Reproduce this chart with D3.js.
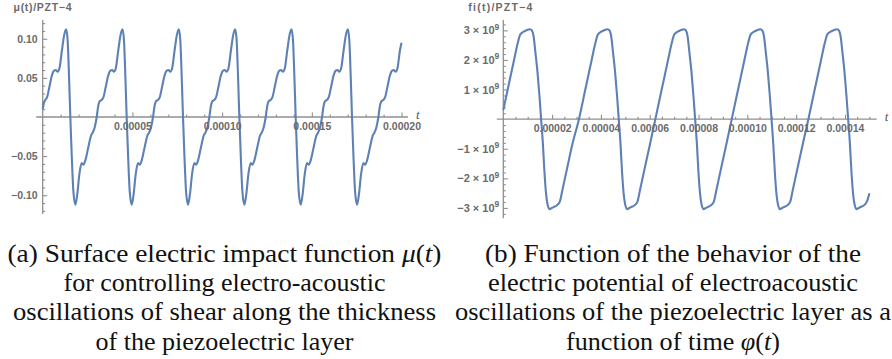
<!DOCTYPE html>
<html>
<head>
<meta charset="utf-8">
<script src="https://cdn.jsdelivr.net/npm/d3@7"></script>
<style>
  body { margin: 0; background: #fff; }
  .tick text, .axlabel { font-family: "Liberation Sans", Arial, sans-serif; font-weight: bold; font-size: 10.5px; fill: #6b6b6b; }
  .tvar { font-family: "Liberation Serif", serif; font-style: italic; font-size: 13px; fill: #555; }
  .caption { font-family: "Liberation Serif", serif; font-size: 24.4px; fill: #111; }
</style>
</head>
<body>
<div id="chart"></div>
<script>
// left panel: mu(t), time in microseconds
const muTime = [
  0, 0.8, 1.5, 2.4, 3.7, 5.0, 6.2, 7.3, 8.3, 9.3, 10.7, 12.0, 13.1, 13.9, 14.7, 15.4, 16.2, 17.1, 18.2, 19.2, 20.5, 21.7, 22.7, 23.7, 25.3, 26.9, 27.9, 29.0,
  30.1, 30.8, 31.7, 32.9, 33.8, 35.1, 36.4, 37.6, 38.7, 39.7, 40.7, 42.1, 43.4, 44.5, 45.3, 46.1, 46.8, 47.6, 48.5, 49.6, 50.6, 51.9, 53.1, 54.1, 55.1, 56.7, 58.3, 59.3, 60.4,
  61.5, 62.2, 63.1, 64.3, 65.2, 66.5, 67.8, 69.0, 70.1, 71.1, 72.1, 73.5, 74.8, 75.9, 76.7, 77.5, 78.2, 79.0, 79.9, 81.0, 82.0, 83.3, 84.5, 85.5, 86.5, 88.1, 89.7, 90.7, 91.8,
  92.9, 93.6, 94.5, 95.7, 96.6, 97.9, 99.2, 100.4, 101.5, 102.5, 103.5, 104.9, 106.2, 107.3, 108.1, 108.9, 109.6, 110.4, 111.3, 112.4, 113.4, 114.7, 115.9, 116.9, 117.9, 119.5, 121.1, 122.1, 123.2,
  124.3, 125.0, 125.9, 127.1, 128.0, 129.3, 130.6, 131.8, 132.9, 133.9, 134.9, 136.3, 137.6, 138.7, 139.5, 140.3, 141.0, 141.8, 142.7, 143.8, 144.8, 146.1, 147.3, 148.3, 149.3, 150.9, 152.5, 153.5, 154.6,
  155.7, 156.4, 157.3, 158.5, 159.4, 160.7, 162.0, 163.2, 164.3, 165.3, 166.3, 167.7, 169.0, 170.1, 170.9, 171.7, 172.4, 173.2, 174.1, 175.2, 176.2, 177.5, 178.7, 179.7, 180.7, 182.3, 183.9, 184.9, 186.0,
  187.1, 187.8, 188.7, 189.9, 190.8, 192.1, 193.4, 194.6, 195.7, 196.7, 197.7, 199.1, 200.0
]
const muValue = [
  0.010, 0.019, 0.022, 0.025, 0.038, 0.052, 0.059, 0.060, 0.058, 0.062, 0.085, 0.105, 0.112, 0.098, 0.050, 0, -0.050, -0.095, -0.112, -0.100, -0.072, -0.059, -0.061, -0.056, -0.040, -0.024, -0.020, -0.013,
  0, 0.012, 0.020, 0.022, 0.025, 0.038, 0.052, 0.059, 0.060, 0.058, 0.062, 0.085, 0.105, 0.112, 0.098, 0.050, 0, -0.050, -0.095, -0.112, -0.100, -0.072, -0.059, -0.061, -0.056, -0.040, -0.024, -0.020, -0.013,
  0, 0.012, 0.020, 0.022, 0.025, 0.038, 0.052, 0.059, 0.060, 0.058, 0.062, 0.085, 0.105, 0.112, 0.098, 0.050, 0, -0.050, -0.095, -0.112, -0.100, -0.072, -0.059, -0.061, -0.056, -0.040, -0.024, -0.020, -0.013,
  0, 0.012, 0.020, 0.022, 0.025, 0.038, 0.052, 0.059, 0.060, 0.058, 0.062, 0.085, 0.105, 0.112, 0.098, 0.050, 0, -0.050, -0.095, -0.112, -0.100, -0.072, -0.059, -0.061, -0.056, -0.040, -0.024, -0.020, -0.013,
  0, 0.012, 0.020, 0.022, 0.025, 0.038, 0.052, 0.059, 0.060, 0.058, 0.062, 0.085, 0.105, 0.112, 0.098, 0.050, 0, -0.050, -0.095, -0.112, -0.100, -0.072, -0.059, -0.061, -0.056, -0.040, -0.024, -0.020, -0.013,
  0, 0.012, 0.020, 0.022, 0.025, 0.038, 0.052, 0.059, 0.060, 0.058, 0.062, 0.085, 0.105, 0.112, 0.098, 0.050, 0, -0.050, -0.095, -0.112, -0.100, -0.072, -0.059, -0.061, -0.056, -0.040, -0.024, -0.020, -0.013,
  0, 0.012, 0.020, 0.022, 0.025, 0.038, 0.052, 0.059, 0.060, 0.058, 0.062, 0.085, 0.095
]

// right panel: phi(t), time in microseconds, value in units of 1e9
const phiTime = [
  0, 1.8, 4.4, 6.0, 6.9, 7.8, 8.9, 10.1, 11.0, 11.7, 12.5, 13.1, 14.0, 14.8, 15.5, 16.2, 16.8, 17.5, 18.2, 19.0, 19.9, 21.2, 22.4, 23.2, 24.2, 26.3, 28.3,
  31.0, 33.6, 36.2, 37.8, 38.7, 39.6, 40.7, 41.9, 42.8, 43.5, 44.3, 44.9, 45.8, 46.6, 47.3, 48.0, 48.6, 49.3, 50.0, 50.8, 51.7, 53.0, 54.2, 55.0, 56.0, 58.1, 60.1,
  62.3, 64.9, 67.5, 69.1, 70.0, 70.9, 72.0, 73.2, 74.1, 74.8, 75.6, 76.2, 77.1, 77.9, 78.6, 79.3, 79.9, 80.6, 81.3, 82.1, 83.0, 84.3, 85.5, 86.3, 87.3, 89.4, 91.4,
  93.6, 96.2, 98.8, 100.4, 101.3, 102.2, 103.3, 104.5, 105.4, 106.1, 106.9, 107.5, 108.4, 109.2, 109.9, 110.6, 111.2, 111.9, 112.6, 113.4, 114.3, 115.6, 116.8, 117.6, 118.6, 120.7, 122.7,
  125.0, 127.6, 130.2, 131.8, 132.7, 133.6, 134.7, 135.9, 136.8, 137.5, 138.3, 138.9, 139.8, 140.6, 141.3, 142.0, 142.6, 143.3, 144.0, 144.8, 145.7, 147.0, 148.2, 149.0, 150.0
]
const phiValue = [
  0.31, 1.0, 2.0, 2.6, 2.85, 2.93, 2.98, 3.02, 3.04, 3.0, 2.75, 2.3, 1.6, 0.8, 0, -0.8, -1.7, -2.5, -2.9, -3.04, -3.0, -2.95, -2.88, -2.78, -2.4, -1.6, -0.85,
  0, 1.0, 2.0, 2.6, 2.85, 2.93, 2.98, 3.02, 3.04, 3.0, 2.75, 2.3, 1.6, 0.8, 0, -0.8, -1.7, -2.5, -2.9, -3.04, -3.0, -2.95, -2.88, -2.78, -2.4, -1.6, -0.85,
  0, 1.0, 2.0, 2.6, 2.85, 2.93, 2.98, 3.02, 3.04, 3.0, 2.75, 2.3, 1.6, 0.8, 0, -0.8, -1.7, -2.5, -2.9, -3.04, -3.0, -2.95, -2.88, -2.78, -2.4, -1.6, -0.85,
  0, 1.0, 2.0, 2.6, 2.85, 2.93, 2.98, 3.02, 3.04, 3.0, 2.75, 2.3, 1.6, 0.8, 0, -0.8, -1.7, -2.5, -2.9, -3.04, -3.0, -2.95, -2.88, -2.78, -2.4, -1.6, -0.85,
  0, 1.0, 2.0, 2.6, 2.85, 2.93, 2.98, 3.02, 3.04, 3.0, 2.75, 2.3, 1.6, 0.8, 0, -0.8, -1.7, -2.5, -2.9, -3.04, -3.0, -2.95, -2.88, -2.78, -2.5
]

const muXTicks = [0.00005, 0.0001, 0.00015, 0.0002]
const muYTicks = [-0.1, -0.05, 0.05, 0.1]
const phiXTicks = [0.00002, 0.00004, 0.00006, 0.00008, 0.0001, 0.00012, 0.00014]
const phiYTicks = [-3e9, -2e9, -1e9, 1e9, 2e9, 3e9]

const captionA = [
  [["(a) Surface electric impact function ", 0], ["μ", 1], ["(", 0], ["t", 1], [")", 0]],
  [["for controlling electro-acoustic", 0]],
  [["oscillations of shear along the thickness", 0]],
  [["of the piezoelectric layer", 0]]
]
const captionB = [
  [["(b) Function of the behavior of the", 0]],
  [["electric potential of electroacoustic", 0]],
  [["oscillations of the piezoelectric layer as a", 0]],
  [["function of time ", 0], ["φ", 1], ["(", 0], ["t", 1], [")", 0]]
]
// line widths of the original (Computer Modern) caption lines
const captionAWidths = [434, 322, 423, 258]
const captionBWidths = [376, 370, 436, 214]

const svg = d3.select("#chart").append("svg").attr("width", 892).attr("height", 359)
svg.append("rect").attr("width", 892).attr("height", 359).attr("fill", "#fff")

const AXIS = "#8f8f8f"

function minorRange(lo, hi, step, majors) {
  return d3.range(Math.ceil(lo / step), Math.floor(hi / step) + 1)
    .map(i => i * step)
    .filter(v => Math.abs(v) > step / 10 && !majors.some(m => Math.abs(m - v) < step / 10))
}

function drawPanel(p) {
  const x = d3.scaleLinear().domain(p.xDomain).range(p.xRange)
  const y = d3.scaleLinear().domain(p.yDomain).range(p.yRange)
  const g = svg.append("g")

  // axis lines
  g.append("line").attr("x1", x(0) - 6.5).attr("x2", x(p.xDomain[1])).attr("y1", y(0)).attr("y2", y(0))
    .attr("stroke", AXIS).attr("stroke-width", 1.3)
  g.append("line").attr("x1", x(0)).attr("x2", x(0)).attr("y1", y(p.yDomain[0])).attr("y2", y(p.yDomain[1]))
    .attr("stroke", AXIS).attr("stroke-width", 1.3)

  const xMinor = minorRange(0, p.xDomain[1], p.xMinorStep, p.xTicks)
  const yMinor = minorRange(p.yDomain[0], p.yDomain[1], p.yMinorStep, p.yTicks)

  const tickMarks = (axis, vals, size) => axis.tickValues(vals).tickSize(size).tickFormat("")
  g.append("g").attr("transform", `translate(0,${y(0)})`)
    .call(tickMarks(d3.axisBottom(x), xMinor, -2.5))
  g.append("g").attr("transform", `translate(0,${y(0)})`)
    .call(tickMarks(d3.axisBottom(x), p.xTicks, -4.5))
  g.append("g").attr("transform", `translate(${x(0)},0)`)
    .call(tickMarks(d3.axisLeft(y), yMinor, -2.5))
  g.append("g").attr("transform", `translate(${x(0)},0)`)
    .call(tickMarks(d3.axisLeft(y), p.yTicks, -4.5))
  g.selectAll(".domain").remove()
  g.selectAll(".tick line").attr("stroke", AXIS).attr("stroke-width", 1.1)

  // curve
  const pts = p.time.map((t, i) => [t * 1e-6, p.value[i] * p.unit])
  g.append("path").datum(pts)
    .attr("fill", "none").attr("stroke", "#5e81b5").attr("stroke-width", 2.1)
    .attr("stroke-linejoin", "round")
    .attr("d", d3.line().x(d => x(d[0])).y(d => y(d[1])).curve(d3.curveMonotoneX))

  // tick labels on top
  g.append("g").attr("transform", `translate(0,${y(0)})`)
    .call(d3.axisBottom(x).tickValues(p.xTicks).tickSize(0).tickPadding(p.xPad).tickFormat(d3.format(".5f")))
  const yl = g.append("g").attr("transform", `translate(${x(0)},0)`)
    .call(d3.axisLeft(y).tickValues(p.yTicks).tickSize(0).tickPadding(p.yPad).tickFormat(p.yFormat || d3.format(".2f")))
  g.selectAll(".domain").remove()
  if (p.yRich) yl.selectAll(".tick text").each(p.yRich)

  g.append("text").attr("class", "axlabel").attr("x", p.labelPos[0]).attr("y", p.labelPos[1])
    .attr("textLength", p.labelWidth).attr("lengthAdjust", "spacing").text(p.label)
  g.append("text").attr("class", "tvar").attr("x", x(p.xDomain[1]) + 8).attr("y", y(0) + 1.5).text("t")
}

drawPanel({
  time: muTime, value: muValue, unit: 1,
  xDomain: [0, 0.0002036], xRange: [42.7, 408],
  yDomain: [-0.124, 0.124], yRange: [214, 20],
  xTicks: muXTicks, yTicks: muYTicks, xMinorStep: 0.00001, yMinorStep: 0.01,
  xPad: 5.5, yPad: 5,
  label: "μ(t)/PZT−4", labelPos: [13.5, 10.5], labelWidth: 58
})

drawPanel({
  time: phiTime, value: phiValue, unit: 1e9,
  xDomain: [0, 0.000153], xRange: [503.3, 876.7],
  yDomain: [-3.35e9, 3.35e9], yRange: [218.3, 20],
  xTicks: phiXTicks, yTicks: phiYTicks, xMinorStep: 0.000005, yMinorStep: 0.2e9,
  xPad: 5, yPad: 4,
  yFormat: d => "",
  yRich: function(d) {
    const n = d / 1e9
    const t = d3.select(this).style("font-size", "11px")
    t.append("tspan").text((n < 0 ? "−" : "") + Math.abs(n) + " × 10")
    t.append("tspan").attr("dy", -4.5).attr("font-size", "8.5px").text("9")
  },
  label: "fi(t)/PZT−4", labelPos: [468.3, 11], labelWidth: 64
})

function drawCaption(lines, widths, cx) {
  lines.forEach((segs, i) => {
    const t = svg.append("text").attr("class", "caption")
      .attr("x", cx).attr("y", 262 + i * 29.2).attr("text-anchor", "middle")
    segs.forEach(s => t.append("tspan").text(s[0]).attr("font-style", s[1] ? "italic" : null))
    t.attr("textLength", widths[i]).attr("lengthAdjust", "spacingAndGlyphs")
  })
}

drawCaption(captionA, captionAWidths, 224.5)
drawCaption(captionB, captionBWidths, 673)
</script>
</body>
</html>
